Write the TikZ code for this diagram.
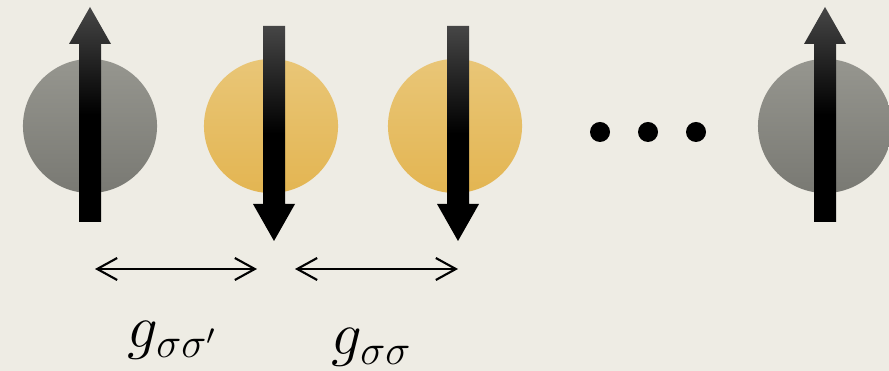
\documentclass[tikz,border=0pt]{standalone}
\usepackage{tikz}
\usetikzlibrary{arrows.meta,positioning,calc}
\definecolor{bg}{HTML}{EEECE4}
\definecolor{grtop}{HTML}{96968F}
\definecolor{grbot}{HTML}{797973}
\definecolor{ytop}{HTML}{E9C677}
\definecolor{ybot}{HTML}{E3B552}
\definecolor{spintop}{HTML}{464646}
\tikzset{
  site/.style={circle, minimum size=1.34cm, inner sep=0pt},
  grsite/.style={site, top color=grtop, bottom color=grbot},
  ysite/.style={site, top color=ytop, bottom color=ybot},
  spin/.style={top color=spintop, bottom color=black, middle color=black},
  gap/.style={{Straight Barb[length=2mm,width=2.2mm]}-{Straight Barb[length=2mm,width=2.2mm]},
              line width=0.6pt},
  lbl/.style={font=\fontsize{17}{19}\selectfont, inner sep=0pt, anchor=base},
  dot/.style={circle, fill=black, minimum size=2mm, inner sep=0pt},
}
% spin arrows, drawn round a site centre
\newcommand{\spinup}[1]{%
  \shade[spin] ($(#1)+(-11,96)$) -- ++(22,0) -- ++(0,-178) -- ++(10,0)
    -- ++(-21,-37) -- ++(-21,37) -- ++(10,0) -- cycle;}
\newcommand{\spindown}[1]{%
  \shade[spin] ($(#1)+(-8,-100)$) -- ++(22,0) -- ++(0,178) -- ++(10,0)
    -- ++(-21,37) -- ++(-21,-37) -- ++(10,0) -- cycle;}

\begin{document}
\begin{tikzpicture}[x=0.01cm, y=-0.01cm]
  \fill[bg] (0,0) rectangle (889,371);
  \useasboundingbox (0,0) rectangle (889,371);
  \clip (0,0) rectangle (889,371);

  \node[grsite] (s1) at (90,126) {};
  \node[ysite]  (s2) at (271,126) {};
  \node[ysite]  (s3) at (455,126) {};
  \node[grsite] (s4) at (825,126) {};

  \spinup{s1}
  \spindown{s2}
  \spindown{s3}
  \spinup{s4}

  \node[dot] (d1) at (600,132) {};
  \node[dot] (d2) at (648,132) {};
  \node[dot] (d3) at (696,132) {};

  \coordinate (g1a) at (95,269);
  \coordinate (g1b) at (257,269);
  \coordinate (g2a) at (295,269);
  \coordinate (g2b) at (458,269);
  \draw[gap] (g1a) -- (g1b);
  \draw[gap] (g2a) -- (g2b);

  \node[lbl] (l1) at (173,348) {$g_{\sigma\sigma'}$};
  \node[lbl] (l2) at (372,355) {$g_{\sigma\sigma}$};
\end{tikzpicture}
\end{document}
